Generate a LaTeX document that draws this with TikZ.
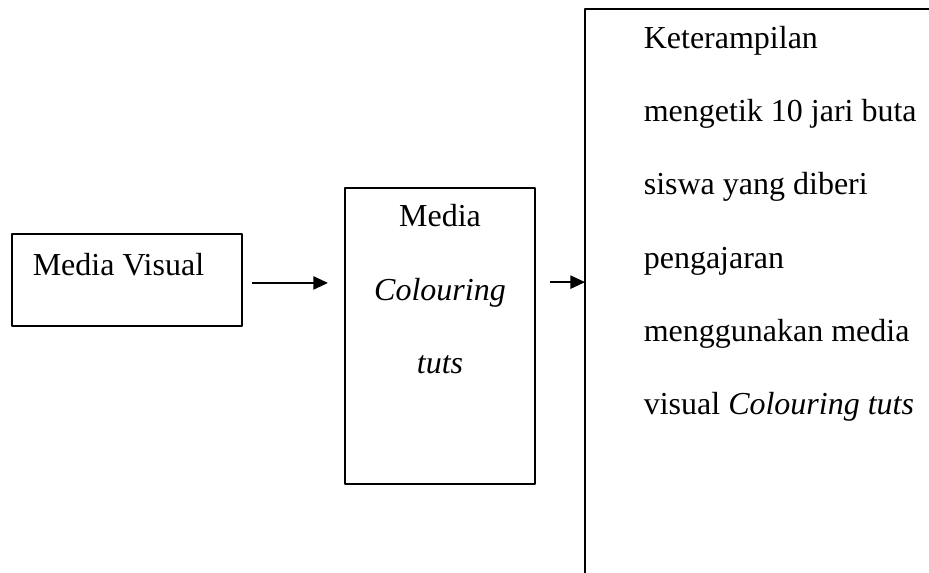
\documentclass[tikz,border=0pt]{standalone}
\usepackage{fontspec}
\setmainfont{Liberation Serif}
\usetikzlibrary{arrows.meta}
\begin{document}
\begin{tikzpicture}[x=0.375pt, y=-0.375pt, line width=0.6pt, line join=round,
			font=\fontsize{12pt}{14pt}\selectfont, >={Triangle[length=5.5pt,width=5pt]},
			kotak/.style={draw, rectangle, inner sep=0pt, outer sep=0pt}]
			\def \px{0.375pt}
			\useasboundingbox (0,0) rectangle (929,573);
			\clip (0,0) rectangle (929,573);
			% kotak
			\node[kotak, minimum width=230*\px, minimum height=92*\px] (visual) at (127,280) {};
			\node[kotak, minimum width=190*\px, minimum height=296*\px] (colouring) at (440,336) {};
			\node[kotak, minimum width=375*\px, minimum height=591*\px] (hasil) at (772.5,304.5) {};
			% teks
			\node[anchor=base west, inner sep=0pt] (tvisual) at (32,275) {Media Visual};
			\node[anchor=base, inner sep=0pt] (tc1) at (440,227) {Media};
			\node[anchor=base, inner sep=0pt] (tc2) at (440,300) {\itshape Colouring};
			\node[anchor=base, inner sep=0pt] (tc3) at (440,373) {\itshape tuts};
			\node[anchor=base west, inner sep=0pt] (th1) at (643,49) {Keterampilan};
			\node[anchor=base west, inner sep=0pt] (th2) at (643,122) {mengetik 10 jari buta};
			\node[anchor=base west, inner sep=0pt] (th3) at (643,195) {siswa yang diberi};
			\node[anchor=base west, inner sep=0pt] (th4) at (643,268) {pengajaran};
			\node[anchor=base west, inner sep=0pt] (th5) at (643,341) {menggunakan media};
			\node[anchor=base west, inner sep=0pt] (th6) at (643,414) {visual \textit{Colouring tuts}};
			% panah
			\draw[->, shorten <=3.75pt, shorten >=6.4pt] ([yshift=-1.1pt]visual.east)
				-- ([yshift=-1.1pt]visual.east -| colouring.west);
			\draw[->, shorten <=5.6pt] ([yshift=-0.8pt]colouring.east |- visual.east)
				-- ([yshift=-0.8pt]visual.east -| hasil.west);
		\end{tikzpicture}
\end{document}
